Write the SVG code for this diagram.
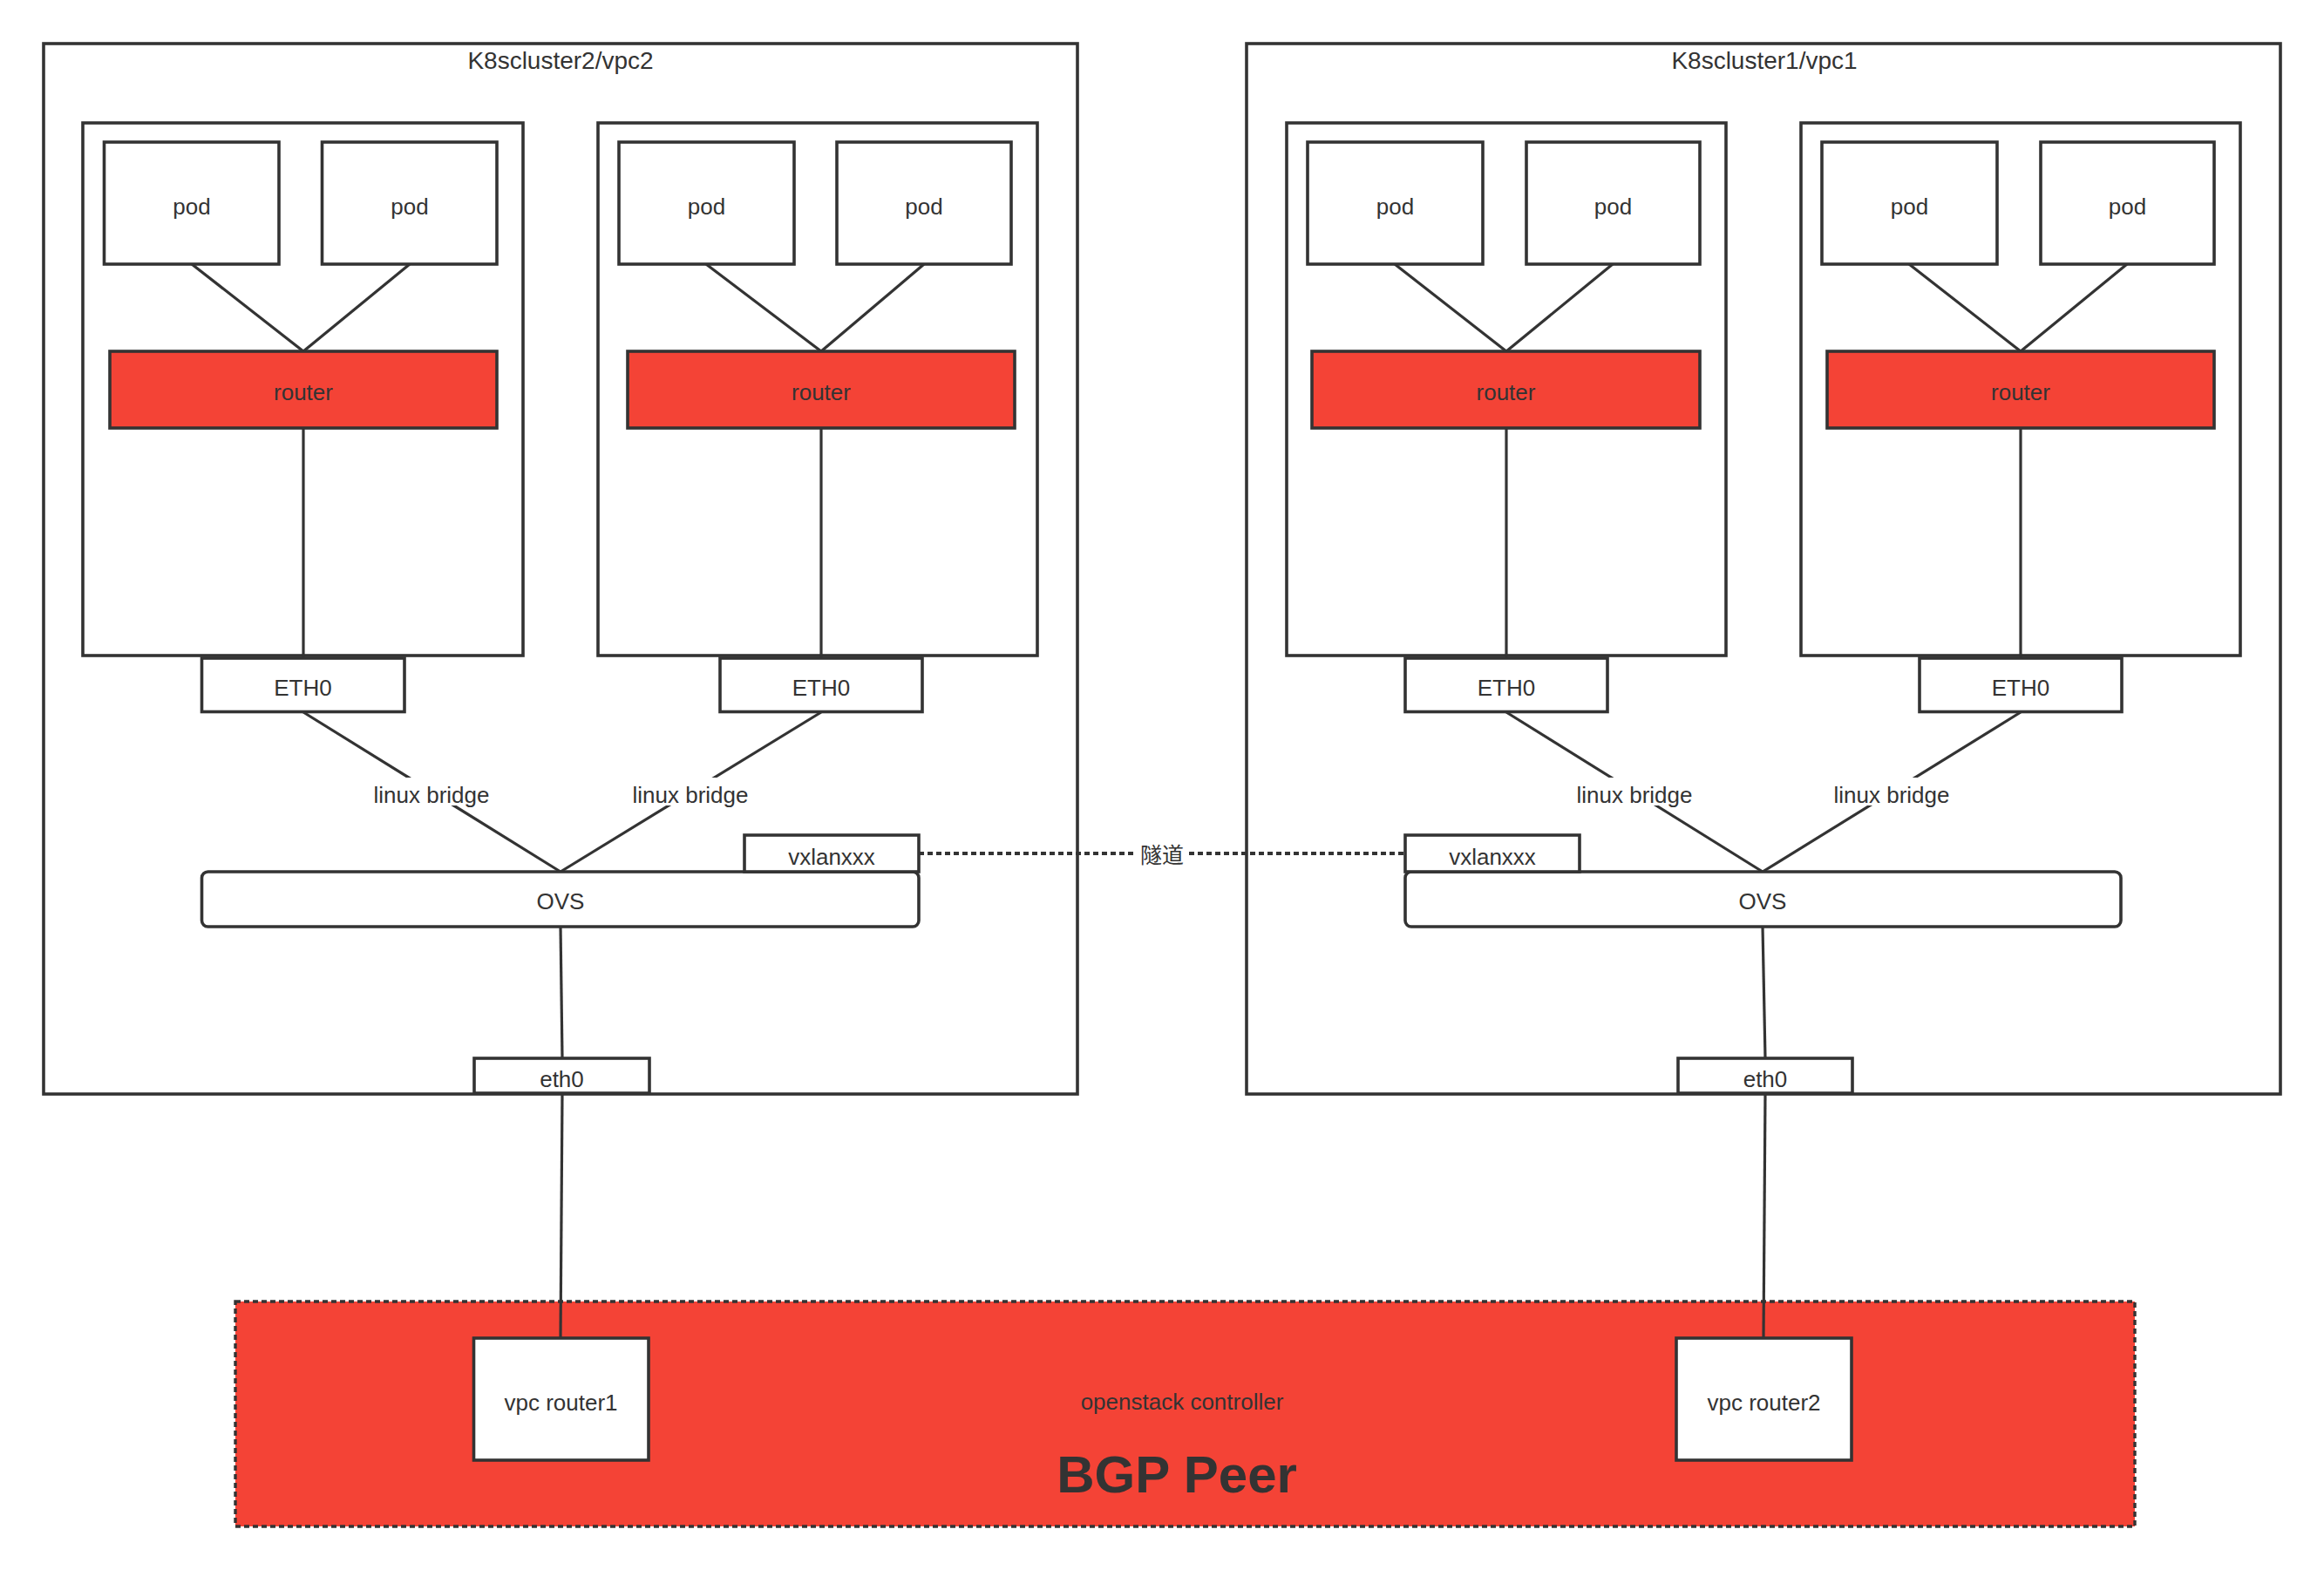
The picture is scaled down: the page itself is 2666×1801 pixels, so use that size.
<svg xmlns="http://www.w3.org/2000/svg" width="2666" height="1801" viewBox="0 0 2666 1801">
<style>
.box{fill:#fff;stroke:#333;stroke-width:3.6}
.red{fill:#f44336;stroke:#333;stroke-width:3.6}
.ln{stroke:#333;stroke-width:3.2;fill:none}
.dash{stroke:#333;stroke-width:4;fill:none;stroke-dasharray:6 4}
.t{font-family:"Liberation Sans",Arial,sans-serif;font-size:26px;fill:#333;text-anchor:middle}
.ttl{font-family:"Liberation Sans",Arial,sans-serif;font-size:28px;fill:#333;text-anchor:middle}
.cjk{font-family:"Liberation Sans","Noto Sans CJK SC",sans-serif;font-size:25px;fill:#333;text-anchor:middle}
.big{font-family:"Liberation Sans",Arial,sans-serif;font-size:60px;font-weight:bold;fill:#333;text-anchor:middle}
.bg{fill:#fff}
</style>
<rect width="2666" height="1801" fill="#fff"/>

<!-- BGP peer area -->
<g id="bgp-peer">
<rect x="270" y="1493" width="2179" height="258" fill="#f44336" stroke="#333" stroke-width="3.4" stroke-dasharray="6 4"/>
<text class="t" x="1356" y="1617">openstack controller</text>
<text class="big" x="1350" y="1712">BGP Peer</text>
</g>

<!-- Cluster 2 -->
<g id="cluster2">
<rect class="box" x="50" y="50" width="1186" height="1205"/>
<text class="ttl" x="643" y="79">K8scluster2/vpc2</text>
</g>
<g id="c2-node1"><rect class="box" x="95" y="141" width="505" height="611"/></g>
<g id="c2-node2"><rect class="box" x="686" y="141" width="504" height="611"/></g>

<!-- Cluster 1 -->
<g id="cluster1">
<rect class="box" x="1430" y="50" width="1186" height="1205"/>
<text class="ttl" x="2024" y="79">K8scluster1/vpc1</text>
</g>
<g id="c1-node1"><rect class="box" x="1476" y="141" width="504" height="611"/></g>
<g id="c1-node2"><rect class="box" x="2066" y="141" width="504" height="611"/></g>

<!-- connectors -->
<g id="connectors">
<line class="ln" x1="220" y1="303" x2="348" y2="403"/>
<line class="ln" x1="470" y1="303" x2="348" y2="403"/>
<line class="ln" x1="348" y1="491" x2="348" y2="755"/>
<line class="ln" x1="810" y1="303" x2="942" y2="403"/>
<line class="ln" x1="1060" y1="303" x2="942" y2="403"/>
<line class="ln" x1="942" y1="491" x2="942" y2="755"/>
<line class="ln" x1="1600" y1="303" x2="1728" y2="403"/>
<line class="ln" x1="1850" y1="303" x2="1728" y2="403"/>
<line class="ln" x1="1728" y1="491" x2="1728" y2="755"/>
<line class="ln" x1="2190" y1="303" x2="2318" y2="403"/>
<line class="ln" x1="2440" y1="303" x2="2318" y2="403"/>
<line class="ln" x1="2318" y1="491" x2="2318" y2="755"/>

<line class="ln" x1="348" y1="817" x2="643" y2="1000"/>
<line class="ln" x1="942" y1="817" x2="643" y2="1000"/>
<line class="ln" x1="1728" y1="817" x2="2022" y2="1000"/>
<line class="ln" x1="2318" y1="817" x2="2022" y2="1000"/>
<rect class="bg" x="420" y="892" width="150" height="32"/>
<text class="t" x="495" y="921">linux bridge</text>
<rect class="bg" x="717" y="892" width="150" height="32"/>
<text class="t" x="792" y="921">linux bridge</text>
<rect class="bg" x="1800" y="892" width="150" height="32"/>
<text class="t" x="1875" y="921">linux bridge</text>
<rect class="bg" x="2095" y="892" width="150" height="32"/>
<text class="t" x="2170" y="921">linux bridge</text>

<line class="ln" x1="643" y1="1063" x2="645" y2="1214"/>
<line class="ln" x1="645" y1="1254" x2="643" y2="1535"/>
<line class="ln" x1="2022" y1="1063" x2="2025" y2="1214"/>
<line class="ln" x1="2025" y1="1254" x2="2023" y2="1535"/>

<line class="dash" x1="1054" y1="979" x2="1612" y2="979"/>
<rect class="bg" x="1304" y="965" width="58" height="30"/>
<text class="cjk" x="1333" y="990">隧道</text>
</g>

<!-- pods and routers -->
<g id="c2-n1-pod1"><rect class="box" x="119.5" y="163" width="200.5" height="140"/><text class="t" x="220" y="246">pod</text></g>
<g id="c2-n1-pod2"><rect class="box" x="369.5" y="163" width="200.5" height="140"/><text class="t" x="470" y="246">pod</text></g>
<g id="c2-n1-router"><rect class="red" x="126" y="403" width="444" height="88"/><text class="t" x="348" y="459">router</text></g>
<g id="c2-n2-pod1"><rect class="box" x="710" y="163" width="201" height="140"/><text class="t" x="810.5" y="246">pod</text></g>
<g id="c2-n2-pod2"><rect class="box" x="960" y="163" width="200" height="140"/><text class="t" x="1060" y="246">pod</text></g>
<g id="c2-n2-router"><rect class="red" x="720" y="403" width="444" height="88"/><text class="t" x="942" y="459">router</text></g>

<g id="c1-n1-pod1"><rect class="box" x="1500" y="163" width="201" height="140"/><text class="t" x="1600.5" y="246">pod</text></g>
<g id="c1-n1-pod2"><rect class="box" x="1751" y="163" width="199" height="140"/><text class="t" x="1850.5" y="246">pod</text></g>
<g id="c1-n1-router"><rect class="red" x="1505" y="403" width="445" height="88"/><text class="t" x="1727.5" y="459">router</text></g>
<g id="c1-n2-pod1"><rect class="box" x="2090" y="163" width="201" height="140"/><text class="t" x="2190.5" y="246">pod</text></g>
<g id="c1-n2-pod2"><rect class="box" x="2341" y="163" width="199" height="140"/><text class="t" x="2440.5" y="246">pod</text></g>
<g id="c1-n2-router"><rect class="red" x="2096" y="403" width="444" height="88"/><text class="t" x="2318" y="459">router</text></g>

<!-- ETH0 -->
<g id="c2-eth0-a"><rect class="box" x="231.5" y="755" width="232.5" height="61.5"/><text class="t" x="347.5" y="798">ETH0</text></g>
<g id="c2-eth0-b"><rect class="box" x="826" y="755" width="232" height="61.5"/><text class="t" x="942" y="798">ETH0</text></g>
<g id="c1-eth0-a"><rect class="box" x="1612" y="755" width="232" height="61.5"/><text class="t" x="1728" y="798">ETH0</text></g>
<g id="c1-eth0-b"><rect class="box" x="2202" y="755" width="232" height="61.5"/><text class="t" x="2318" y="798">ETH0</text></g>

<!-- OVS + vxlan -->
<g id="c2-ovs"><rect class="box" x="231.5" y="1000" width="822.5" height="63" rx="7"/><text class="t" x="643" y="1043">OVS</text></g>
<g id="c2-vxlan"><rect class="box" x="854" y="958" width="200" height="42"/><text class="t" x="954" y="992">vxlanxxx</text></g>
<g id="c1-ovs"><rect class="box" x="1612" y="1000" width="821" height="63" rx="7"/><text class="t" x="2022" y="1043">OVS</text></g>
<g id="c1-vxlan"><rect class="box" x="1612" y="958" width="200" height="42"/><text class="t" x="1712" y="992">vxlanxxx</text></g>

<!-- eth0 -->
<g id="c2-eth0"><rect class="box" x="544" y="1214" width="201" height="40"/><text class="t" x="644.5" y="1247">eth0</text></g>
<g id="c1-eth0"><rect class="box" x="1925" y="1214" width="200" height="40"/><text class="t" x="2025" y="1247">eth0</text></g>

<!-- vpc routers -->
<g id="vpc-router1"><rect class="box" x="543.5" y="1535" width="200.5" height="140"/><text class="t" x="643.5" y="1618">vpc router1</text></g>
<g id="vpc-router2"><rect class="box" x="1923" y="1535" width="201" height="140"/><text class="t" x="2023.5" y="1618">vpc router2</text></g>
</svg>
